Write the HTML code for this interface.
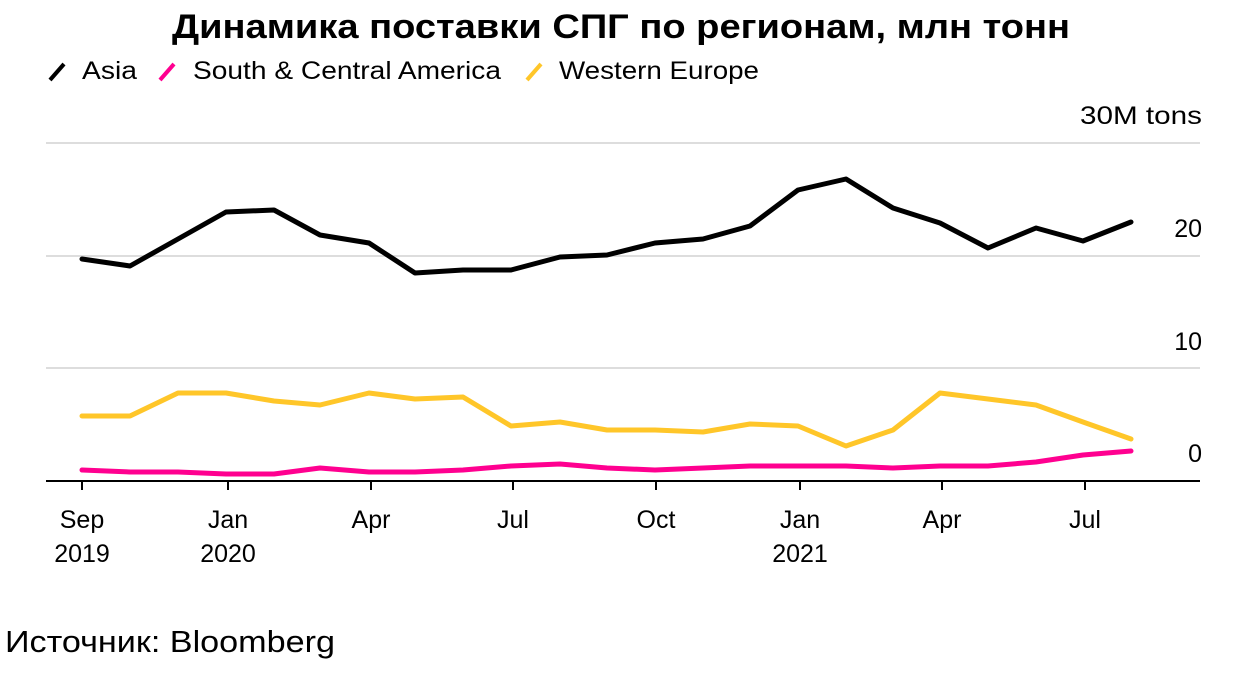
<!DOCTYPE html>
<html><head><meta charset="utf-8"><style>
body{margin:0;background:#fff;width:1238px;height:672px;overflow:hidden;font-family:"Liberation Sans","DejaVu Sans",sans-serif;}
</style></head><body>
<svg width="1238" height="672" xmlns="http://www.w3.org/2000/svg" font-family="Liberation Sans, DejaVu Sans, sans-serif">
<text x="172" y="38" font-size="34" font-weight="bold" fill="#000" textLength="898" lengthAdjust="spacingAndGlyphs">Динамика поставки СПГ по регионам, млн тонн</text>
<g font-size="25" fill="#000">
<line x1="50" y1="80" x2="64" y2="64" stroke="#000" stroke-width="4"/>
<text x="82" y="79" textLength="55" lengthAdjust="spacingAndGlyphs">Asia</text>
<line x1="160" y1="80" x2="174" y2="64" stroke="#ff0090" stroke-width="4"/>
<text x="193" y="79" textLength="308" lengthAdjust="spacingAndGlyphs">South &amp; Central America</text>
<line x1="527" y1="80" x2="541" y2="64" stroke="#ffc629" stroke-width="4"/>
<text x="559" y="79" textLength="200" lengthAdjust="spacingAndGlyphs">Western Europe</text>
</g>
<g stroke="#ddd" stroke-width="2">
<line x1="46" y1="143" x2="1200" y2="143"/>
<line x1="46" y1="256" x2="1200" y2="256"/>
<line x1="46" y1="368" x2="1200" y2="368"/>
</g>
<line x1="46" y1="481" x2="1200" y2="481" stroke="#000" stroke-width="2"/>
<g font-size="25" fill="#000" text-anchor="end">
<text x="1202" y="124" textLength="122" lengthAdjust="spacingAndGlyphs">30M tons</text>
<text x="1202" y="237">20</text>
<text x="1202" y="350">10</text>
<text x="1202" y="462">0</text>
</g>
<g stroke="#000" stroke-width="2">
<line x1="82" y1="481" x2="82" y2="490"/><line x1="228" y1="481" x2="228" y2="490"/>
<line x1="371" y1="481" x2="371" y2="490"/><line x1="513" y1="481" x2="513" y2="490"/>
<line x1="656" y1="481" x2="656" y2="490"/><line x1="800" y1="481" x2="800" y2="490"/>
<line x1="942" y1="481" x2="942" y2="490"/><line x1="1085" y1="481" x2="1085" y2="490"/>
</g>
<g font-size="25" fill="#000" text-anchor="middle">
<text x="82" y="528">Sep</text><text x="82" y="562">2019</text>
<text x="228" y="528">Jan</text><text x="228" y="562">2020</text>
<text x="371" y="528">Apr</text><text x="513" y="528">Jul</text>
<text x="656" y="528">Oct</text>
<text x="800" y="528">Jan</text><text x="800" y="562">2021</text>
<text x="942" y="528">Apr</text><text x="1085" y="528">Jul</text>
</g>
<g fill="none" stroke-width="5" stroke-linejoin="round" stroke-linecap="round">
<polyline stroke="#000" points="82,259 130,266 178,239 226,212 274,210 320,235 369,243 415,273 463,270 511,270 560,257 607,255 655,243 703,239 750,226 798,190 846,179 893,208 940,223 988,248 1036,228 1083,241 1131,222"/>
<polyline stroke="#ffc629" points="82,416 130,416 178,393 226,393 274,401 320,405 369,393 415,399 463,397 511,426 560,422 607,430 655,430 703,432 750,424 798,426 846,446 893,430 940,393 988,399 1036,405 1083,422 1131,439"/>
<polyline stroke="#ff0090" points="82,470 130,472 178,472 226,474 274,474 320,468 369,472 415,472 463,470 511,466 560,464 607,468 655,470 703,468 750,466 798,466 846,466 893,468 940,466 988,466 1036,462 1083,455 1131,451"/>
</g>
<text x="5" y="652" font-size="31" fill="#000" textLength="330" lengthAdjust="spacingAndGlyphs">Источник: Bloomberg</text>
</svg>
</body></html>
